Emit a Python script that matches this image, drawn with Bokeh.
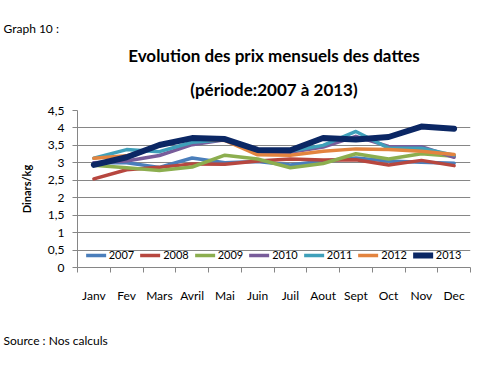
from bokeh.plotting import figure
from bokeh.models import (Range1d, FixedTicker, Legend, LegendItem, Title)
from bokeh.embed import file_html
from bokeh.resources import INLINE

months = ["Janv", "Fev", "Mars", "Avril", "Mai", "Juin", "Juil", "Aout", "Sept", "Oct", "Nov", "Dec"]
years = ["2007", "2008", "2009", "2010", "2011", "2012", "2013"]
p2007 = [3.00, 3.00, 2.87, 3.14, 3.00, 3.04, 2.94, 3.05, 3.14, 3.05, 3.02, 2.99]
p2008 = [2.54, 2.80, 2.87, 2.97, 2.96, 3.05, 3.11, 3.08, 3.09, 2.94, 3.07, 2.92]
p2009 = [2.93, 2.86, 2.78, 2.88, 3.22, 3.11, 2.86, 2.98, 3.26, 3.11, 3.26, 3.19]
p2010 = [3.00, 3.05, 3.21, 3.52, 3.66, 3.30, 3.30, 3.45, 3.76, 3.47, 3.46, 3.16]
p2011 = [3.13, 3.38, 3.32, 3.59, 3.66, 3.34, 3.34, 3.50, 3.90, 3.42, 3.42, 3.22]
p2012 = [3.13, 3.20, 3.50, 3.70, 3.64, 3.23, 3.22, 3.33, 3.40, 3.38, 3.33, 3.24]
p2013 = [2.94, 3.16, 3.51, 3.71, 3.68, 3.37, 3.36, 3.71, 3.67, 3.74, 4.04, 3.98]
series = [p2007, p2008, p2009, p2010, p2011, p2012, p2013]
y_ticks = [0, 0.5, 1, 1.5, 2, 2.5, 3, 3.5, 4, 4.5]
y_tick_labels = ["0", "0,5", "1", "1,5", "2", "2,5", "3", "3,5", "4", "4,5"]

colors = ["#4A7EBB", "#B7473F", "#8CAE4F", "#785C9A", "#3FA0BA", "#E3843F", "#0B2764"]
widths = [3.5, 3.5, 3.5, 3.5, 3.5, 3.5, 6]

FONT = "Lato"
GRAY = "#868686"
W, H = 487, 375
FL, FR, FT, FB = 77, 470, 110, 267

p = figure(width=W, height=H, output_backend="svg", toolbar_location=None,
           x_range=Range1d(0, 12), y_range=Range1d(0, 4.5),
           min_border_left=FL, min_border_right=W - FR,
           min_border_top=FT, min_border_bottom=H - FB)
p.outline_line_color = None

xs = [i + 0.5 for i in range(len(months))]
p.yaxis.ticker = FixedTicker(ticks=y_ticks)
p.yaxis.major_label_overrides = {t: l for t, l in zip(y_ticks, y_tick_labels)}
p.yaxis.major_tick_out = 5
p.yaxis.major_tick_in = 0
p.yaxis.minor_tick_line_color = None
p.yaxis.axis_line_color = GRAY
p.yaxis.major_tick_line_color = GRAY
p.yaxis.major_label_standoff = 8
p.yaxis.major_label_text_font = FONT
p.yaxis.major_label_text_font_size = "12px"
p.yaxis.major_label_text_color = "#000000"
p.yaxis.axis_label = "Dinars/kg"
p.yaxis.axis_label_text_font = FONT
p.yaxis.axis_label_text_font_size = "11px"
p.yaxis.axis_label_text_font_style = "bold"
p.yaxis.axis_label_text_color = "#000000"
p.yaxis.axis_label_standoff = 12

p.xaxis.ticker = FixedTicker(ticks=xs, minor_ticks=list(range(13)))
p.xaxis.major_label_overrides = {x: m for x, m in zip(xs, months)}
p.xaxis.major_tick_out = 0
p.xaxis.major_tick_in = 0
p.xaxis.minor_tick_out = 5
p.xaxis.minor_tick_in = 0
p.xaxis.minor_tick_line_color = GRAY
p.xaxis.axis_line_color = GRAY
p.xaxis.major_label_standoff = 15
p.xaxis.major_label_text_font = FONT
p.xaxis.major_label_text_font_size = "12px"
p.xaxis.major_label_text_color = "#000000"

p.xgrid.grid_line_color = None
p.ygrid.ticker = FixedTicker(ticks=y_ticks)
p.ygrid.grid_line_color = GRAY

items = []
for yr, ys, c, w in zip(years, series, colors, widths):
    r = p.line(xs, ys, line_color=c, line_width=w, line_join="round", line_cap="round")
    items.append(LegendItem(label=yr, renderers=[r]))

legend = Legend(items=items, orientation="horizontal", location="bottom_center",
                glyph_width=20, glyph_height=12, label_standoff=3, spacing=6,
                padding=2, margin=6, border_line_color=None, background_fill_alpha=0,
                label_text_font=FONT, label_text_font_size="11px",
                label_text_color="#000000")
p.add_layout(legend, "center")

def title(text, size, bold, align, offset, standoff, side="above"):
    t = Title(text=text, align=align, offset=offset, standoff=standoff,
              text_font=FONT, text_font_size=size,
              text_font_style="bold" if bold else "normal", text_color="#000000")
    p.add_layout(t, side)

title("(période:2007 à 2013)", "17px", True, "center", 244 - 273.5, 22)
title("Evolution des prix mensuels des dattes", "17px", True, "center", 244 - 273.5, 0)
title("Graph 10 :", "12px", False, "left", 3 - FL, 14)
title("Source : Nos calculs", "12px", False, "left", 3 - FL, 50, side="below")

open("out.html", "w").write(file_html(p, INLINE))
